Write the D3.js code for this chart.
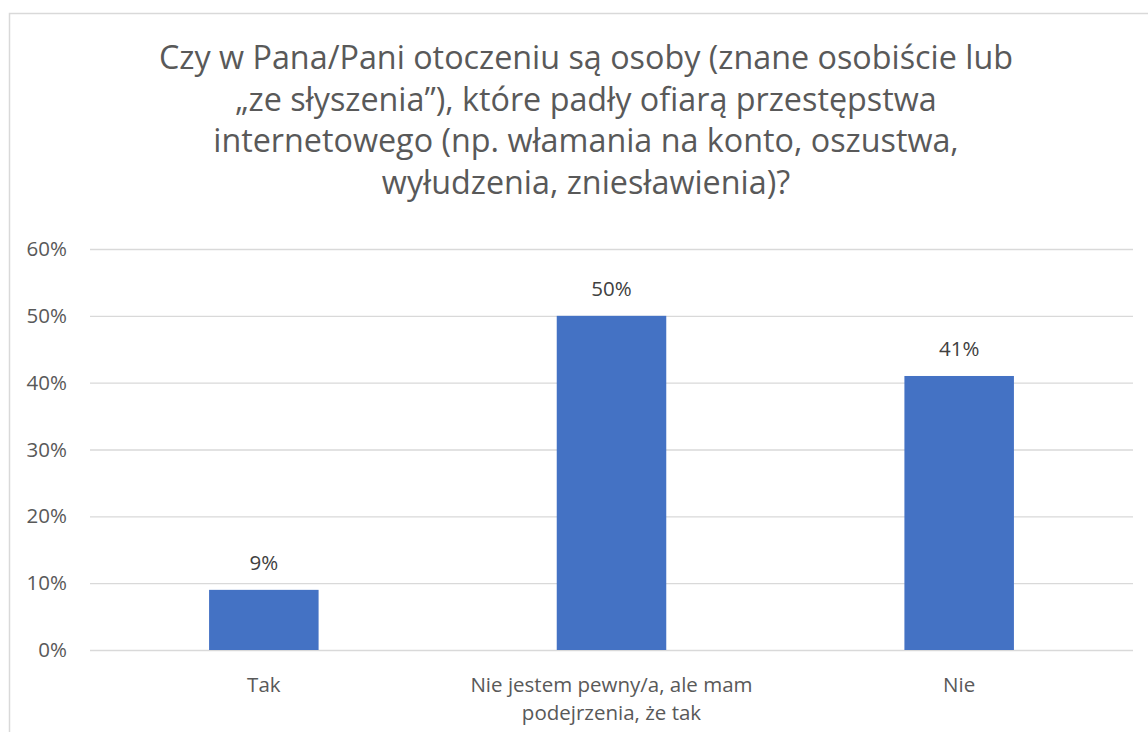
<!DOCTYPE html>
<html>
<head>
<meta charset="utf-8">
<script src="https://cdn.jsdelivr.net/npm/d3@7"></script>
<style>
	body { margin: 0; background: #fff; }
	svg { display: block; }
</style>
</head>
<body>
<svg id="chart" width="1148" height="732"></svg>
<script>
const titleLines = [
	"Czy w Pana/Pani otoczeniu są osoby (znane osobiście lub",
	"„ze słyszenia”), które padły ofiarą przestępstwa",
	"internetowego (np. włamania na konto, oszustwa,",
	"wyłudzenia, zniesławienia)?",
]
const categories = [
	["Tak"],
	["Nie jestem pewny/a, ale mam", "podejrzenia, że tak"],
	["Nie"],
]
const values = [0.09, 0.50, 0.41]
const yTicks = [0, 0.1, 0.2, 0.3, 0.4, 0.5, 0.6]

const config = {
	font: "'Open Sans', Lato, sans-serif",
	textColour: "#595959",
	labelColour: "#404040",
	barColour: "#4472C4",
	gridColour: "#d9d9d9",
	titleSize: 32.3,
	labelSize: 20.5,
	margin: { left: 90, right: 1133, top: 249, bottom: 650 },
}

const svg = d3.select("#chart")

// chart frame
svg.append("rect")
	.attr("x", 9.5).attr("y", 13.5)
	.attr("width", 1148).attr("height", 732)
	.attr("fill", "#fff")
	.attr("stroke", "#d9d9d9")
	.attr("stroke-width", 1.5)

// title
svg.append("g")
	.selectAll("text")
	.data(titleLines)
	.join("text")
	.attr("x", 586)
	.attr("y", (d, i) => 69 + i * 41.5)
	.attr("text-anchor", "middle")
	.attr("fill", config.textColour)
	.style("font-family", config.font)
	.style("font-size", `${config.titleSize}px`)
	.text(d => d)

const x = d3.scaleBand()
	.domain(categories.map((c, i) => i))
	.range([config.margin.left, config.margin.right])
	.paddingInner(0.685)
	.paddingOuter(0.3425)

const y = d3.scaleLinear()
	.domain([0, 0.6])
	.range([config.margin.bottom, config.margin.top])

// gridlines + y labels
const yAxis = d3.axisLeft(y)
	.tickValues(yTicks)
	.tickFormat(d3.format(".0%"))
	.tickSize(-(config.margin.right - config.margin.left))
	.tickPadding(23)

svg.append("g")
	.attr("transform", `translate(${config.margin.left},0)`)
	.call(yAxis)
	.call(g => g.select(".domain").remove())
	.call(g => g.selectAll(".tick line")
		.attr("stroke", config.gridColour)
		.attr("stroke-width", 1.3))
	.call(g => g.selectAll(".tick text")
		.attr("fill", config.textColour)
		.style("font-family", config.font)
		.style("font-size", `${config.labelSize}px`))

// bars
svg.append("g")
	.selectAll("rect")
	.data(values)
	.join("rect")
	.attr("x", (d, i) => x(i))
	.attr("y", d => y(d))
	.attr("width", x.bandwidth())
	.attr("height", d => y(0) - y(d))
	.attr("fill", config.barColour)

// data labels
svg.append("g")
	.selectAll("text")
	.data(values)
	.join("text")
	.attr("x", (d, i) => x(i) + x.bandwidth() / 2)
	.attr("y", d => y(d) - 20)
	.attr("text-anchor", "middle")
	.attr("fill", config.labelColour)
	.style("font-family", config.font)
	.style("font-size", `${config.labelSize}px`)
	.text(d => d3.format(".0%")(d))

// category labels
const catGroup = svg.append("g")
categories.forEach((lines, i) => {
	catGroup.append("text")
		.attr("x", x(i) + x.bandwidth() / 2)
		.attr("y", 692)
		.attr("text-anchor", "middle")
		.attr("fill", config.textColour)
		.style("font-family", config.font)
		.style("font-size", `${config.labelSize}px`)
		.selectAll("tspan")
		.data(lines)
		.join("tspan")
		.attr("x", x(i) + x.bandwidth() / 2)
		.attr("dy", (d, j) => j ? 28 : 0)
		.text(d => d)
})
</script>
</body>
</html>
